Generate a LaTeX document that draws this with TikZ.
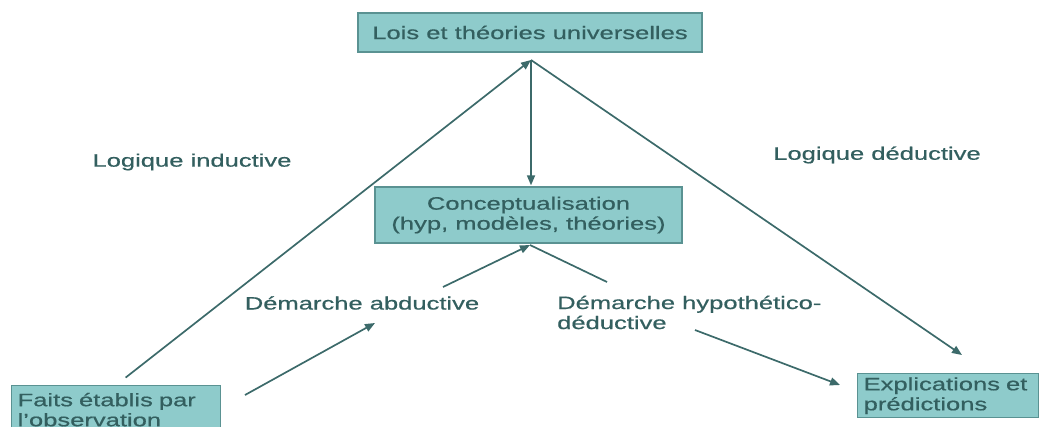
\documentclass[tikz,border=0pt]{standalone}
\usepackage{fontspec}
\setmainfont[FakeStretch=1.42,FakeBold=0.6]{Liberation Sans}
\usetikzlibrary{arrows.meta}
\definecolor{boxfill}{HTML}{8ECBCB}
\definecolor{boxedge}{HTML}{5A9292}
\definecolor{ink}{HTML}{335F5F}
\definecolor{wire}{HTML}{3C6A6A}

\begin{document}
\begin{tikzpicture}[x=1pt,y=-1pt,
  every node/.style={font=\fontsize{18}{20}\selectfont, text=ink},
  panel/.style={draw=boxedge, fill=boxfill, line width=1.3pt, inner sep=0pt},
  tag/.style={inner sep=0pt},
  link/.style={draw=wire, line width=1.7pt},
  arr/.style={link, -{Triangle[length=10pt,width=8pt]}}]
\useasboundingbox (0,0) rectangle (1040,426);

% boxes
\node[panel, minimum width=344pt, minimum height=39pt] (lois) at (530,32.5)
  {Lois et théories universelles};
\node[panel, minimum width=307pt, minimum height=56pt, align=center] (concept) at (528.5,215)
  {Conceptualisation\\(hyp, modèles, théories)};
\node[panel, anchor=north west, minimum width=209pt, minimum height=48pt,
      text width=197pt, inner xsep=6pt, align=left] (faits) at (11,385)
  {Faits établis par\\l'observation};
\node[panel, anchor=north west, minimum width=181pt, minimum height=44pt,
      text width=169pt, inner xsep=6pt, align=left] (explic) at (857,373)
  {Explications et\\prédictions};

% free labels
\node[tag] (induc) at (192,162) {Logique inductive};
\node[tag] (deduc) at (877,155) {Logique déductive};
\node[tag] (abduc) at (362,303) {Démarche abductive};
\node[tag, anchor=west, align=left] (hypded) at (557,312.5) {Démarche hypothético-\\déductive};

% junction points and loose ends
\coordinate (apex) at (531,60);
\coordinate (dedtip) at (962,355);
\coordinate (base) at (530,245);
\coordinate (abdstart) at (443,287);
\coordinate (hypend) at (607,282);
\coordinate (abdtip) at (375,323);
\coordinate (faitsout) at (245,395);
\coordinate (hypout) at (695,330);
\coordinate (explin) at (840,385);

% connectors
\draw[arr, shorten <=12pt] (faits.north) -- (apex);
\draw[arr, shorten >=1pt] (apex) -- (apex |- concept.north);
\draw[arr] (apex) -- (dedtip);
\draw[arr] (abdstart) -- (base);
\draw[link] (base) -- (hypend);
\draw[arr] (faitsout) -- (abdtip);
\draw[arr] (hypout) -- (explin);
\end{tikzpicture}
\end{document}
